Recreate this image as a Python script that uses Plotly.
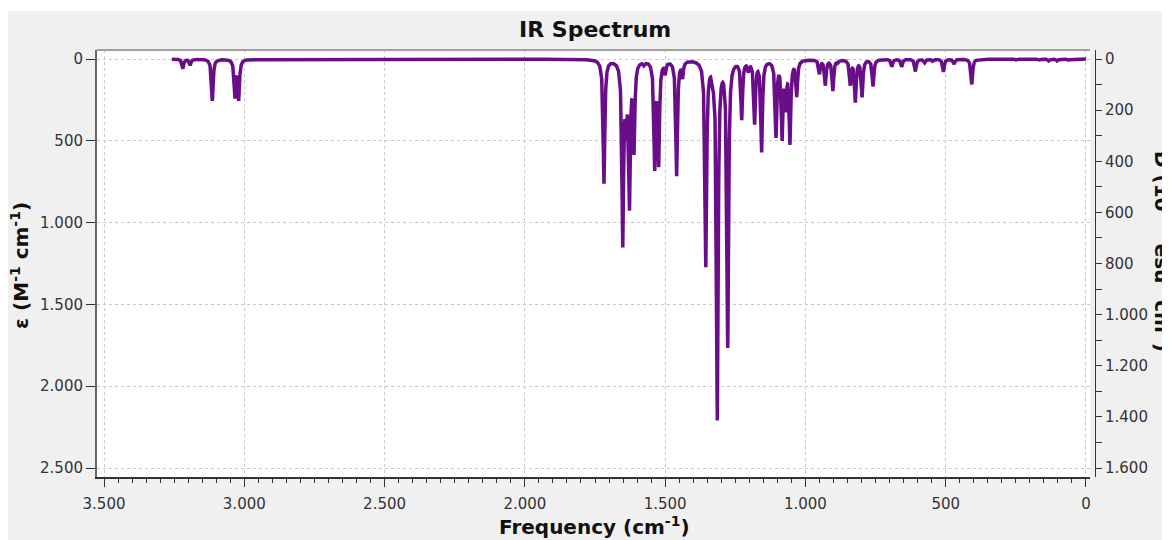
import numpy as np
import plotly.graph_objects as go

# Peak list: frequency (cm^-1) and molar absorptivity
peak_freq = [3219, 3193, 3114, 3033, 3020,
             1718, 1651, 1639, 1627, 1611, 1575, 1537, 1523, 1500, 1459, 1438,
             1355, 1329, 1314, 1277, 1227, 1203, 1181, 1156, 1105, 1083, 1070, 1055, 1031,
             950, 929, 902, 884, 840, 822, 798, 759, 692, 657, 608, 575, 545, 508, 470, 407,
             247, 165, 132, 102, 62]
peak_eps = [57, 37, 255, 225, 240,
            756, 1100, 330, 850, 530, 20, 640, 615, 70, 705, 95,
            1250, 50, 2180, 1740, 355, 55, 380, 555, 460, 460, 260, 495, 215,
            85, 155, 190, 15, 150, 255, 225, 165, 45, 45, 75, 22, 15, 78, 30, 155,
            8, 8, 12, 12, 8]
half_width = 3.5  # Lorentzian HWHM, cm^-1
freq_max = 3258

x_ticks_major = 500
y_ticks_major = 500

freq = np.arange(0, freq_max + 0.25, 0.5)
pf = np.array(peak_freq, dtype=float)
pe = np.array(peak_eps, dtype=float)
eps = (pe[None, :] * half_width**2 / ((freq[:, None] - pf[None, :])**2 + half_width**2)).sum(axis=1)

OFF = 8  # page body margin
W, H = 1170 - OFF, 540 - OFF
L, R_plot, R_paper, T, B = 97 - OFF, 1090 - OFF, 1095 - OFF, 50 - OFF, 477 - OFF
pw = R_paper - L
ph = B - T


def px(xpage):
    return (xpage - OFF - L) / pw


def py(ypage):
    return (B - (ypage - OFF)) / ph


line_color = '#6a0d88'
font_fam = 'DejaVu Sans'
txt = '#222222'

fig = go.Figure()
fig.add_trace(go.Scatter(x=freq, y=eps, mode='lines',
                         line=dict(color=line_color, width=3.5), showlegend=False,
                         hoverinfo='skip'))
fig.add_trace(go.Scatter(x=[None], y=[None], yaxis='y2', showlegend=False))

fig.update_layout(
    width=W, height=H,
    margin=dict(l=L, r=W - R_paper, t=T, b=H - B, pad=0),
    paper_bgcolor='#f0f0f0', plot_bgcolor='white',
    separators=',.',
    font=dict(family=font_fam, size=15, color=txt),
    xaxis=dict(domain=[0, (R_plot - L) / pw], range=[3525, -14.3],
               tick0=0, dtick=x_ticks_major, tickformat=',',
               ticks='outside', ticklen=8, tickwidth=1, tickcolor='#333',
               minor=dict(dtick=50, tick0=0, ticks='outside', ticklen=4, tickcolor='#333', showgrid=False),
               showline=True, linecolor='#333', linewidth=1.5,
               showgrid=True, gridcolor='#c8c8c8', griddash='dot', gridwidth=1,
               zeroline=False, tickfont=dict(size=15, color='#333'), ticklabelstandoff=4),
    yaxis=dict(range=[2555, -55], tick0=0, dtick=y_ticks_major, tickformat=',',
               ticks='outside', ticklen=9, tickwidth=1, tickcolor='#333',
               showline=True, linecolor='#666', linewidth=2,
               showgrid=True, gridcolor='#c8c8c8', griddash='dot', gridwidth=1,
               zeroline=False, tickfont=dict(size=15, color='#333')),
    yaxis2=dict(overlaying='y', side='right', anchor='free', position=1.0,
                range=[1635.2, -35.2], tick0=0, dtick=200, tickformat=',',
                ticks='outside', ticklen=6, tickwidth=1, tickcolor='#333',
                minor=dict(dtick=100, tick0=0, ticks='outside', ticklen=6, tickcolor='#333', showgrid=False),
                showline=True, linecolor='#333', linewidth=1,
                showgrid=False, zeroline=False, tickfont=dict(size=15, color='#333')),
)

shapes = [
    dict(type='rect', xref='paper', yref='paper', x0=px(0), x1=px(1180), y0=py(11), y1=py(0),
         fillcolor='white', line=dict(width=0), layer='below'),
    dict(type='line', xref='paper', yref='paper', x0=0, x1=(R_plot - L) / pw, y0=1, y1=1,
         line=dict(color='#a0a0a0', width=2)),
]
fig.update_layout(shapes=shapes)

ann = [
    dict(text='<b>IR Spectrum</b>', x=px(595), y=py(30), xref='paper', yref='paper',
         showarrow=False, xanchor='center', yanchor='middle', font=dict(size=22, color='#111')),
    dict(text='<b>Frequency (cm<sup>-1</sup>)</b>', x=px(594), y=py(526), xref='paper', yref='paper',
         showarrow=False, xanchor='center', yanchor='middle', font=dict(size=20, color='#111')),
    dict(text='<b>ε (M<sup>-1</sup> cm<sup>-1</sup>)</b>', x=px(20), y=py(266), xref='paper', yref='paper',
         showarrow=False, xanchor='center', yanchor='middle', textangle=-90, font=dict(size=20, color='#111')),
    dict(text='<b>D (10<sup>-40</sup> esu<sup>2</sup> cm<sup>2</sup>)</b>', x=px(1163), y=py(251),
         xref='paper', yref='paper', showarrow=False, xanchor='center', yanchor='middle',
         textangle=90, font=dict(size=20, color='#111')),
]
fig.update_layout(annotations=ann)

fig.write_html('out.html')
